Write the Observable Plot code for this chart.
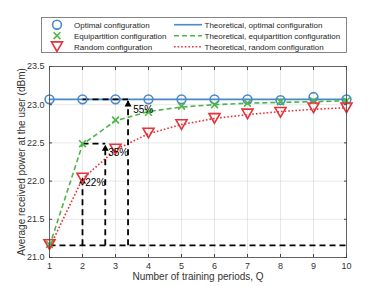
<!DOCTYPE html>
<html>
<head>
<meta charset="utf-8">
<script src="https://cdn.jsdelivr.net/npm/d3@7"></script>
<script src="https://cdn.jsdelivr.net/npm/@observablehq/plot@0.6"></script>
<style>
  html, body { margin: 0; padding: 0; background: #fff; }
  #wrap { width: 382px; height: 286px; font-family: "Liberation Sans", Arial, sans-serif; }
  #legend { display: block; }
  svg { display: block; }
</style>
</head>
<body>
<div id="wrap">
  <svg id="legend" width="382" height="60"></svg>
  <div id="chart"></div>
</div>
<script>
// ---- data ----
const Q = [1, 2, 3, 4, 5, 6, 7, 8, 9, 10];
const optimalSim     = [23.07, 23.07, 23.07, 23.07, 23.07, 23.07, 23.07, 23.06, 23.10, 23.07];
const equipSim       = [21.17, 22.49, 22.80, 22.90, 22.98, 23.00, 23.02, 23.04, 23.05, 23.05];
const randomSim      = [21.17, 22.04, 22.42, 22.63, 22.74, 22.82, 22.88, 22.90, 22.96, 22.96];
const optimalTheory  = [23.07, 23.07, 23.07, 23.07, 23.07, 23.07, 23.07, 23.07, 23.07, 23.07];
const equipTheory    = [21.15, 22.48, 22.79, 22.91, 22.97, 23.00, 23.02, 23.03, 23.04, 23.05];
const randomTheory   = [21.13, 22.03, 22.41, 22.62, 22.74, 22.82, 22.87, 22.91, 22.94, 22.96];

const xTicks = [1, 2, 3, 4, 5, 6, 7, 8, 9, 10];
const yTicks = [21, 21.5, 22, 22.5, 23, 23.5];

// annotation segments (data coordinates)
const segX1 = [1, 2, 2, 2.69, 2, 3.38];
const segY1 = [21.16, 21.16, 22.49, 21.16, 23.07, 21.16];
const segX2 = [10, 2, 2.69, 2.69, 3.38, 3.38];
const segY2 = [21.16, 22.04, 22.49, 22.47, 23.07, 23.05];
const arrowX = [2, 2.69, 3.38];
const arrowY = [22.04, 22.47, 23.05];
const pctLabels = ["22%", "35%", "55%"];
const pctX = [2.085, 2.78, 3.535];
const pctY = [21.975, 22.365, 22.93];

const legendLabelsLeft = ["Optimal configuration", "Equipartition configuration", "Random configuration"];
const legendLabelsRight = ["Theoretical, optimal configuration", "Theoretical, equipartition configuration", "Theoretical, random configuration"];

const BLUE = "#4a89c8", GREEN = "#4fb548", RED = "#e6323a";

const rows = Q.map((q, i) => ({
  q, optS: optimalSim[i], eqS: equipSim[i], rnS: randomSim[i],
  optT: optimalTheory[i], eqT: equipTheory[i], rnT: randomTheory[i]
}));
const segs = segX1.map((x, i) => ({x1: x, y1: segY1[i], x2: segX2[i], y2: segY2[i]}));
const arrows = arrowX.map((x, i) => ({x, y: arrowY[i]}));
const pcts = pctLabels.map((t, i) => ({t, x: pctX[i], y: pctY[i]}));

const axisColor = "#444";
const chart = Plot.plot({
  width: 382, height: 226,
  marginLeft: 49, marginRight: 36, marginTop: 6, marginBottom: 29,
  x: {domain: [1, 10]},
  y: {domain: [21, 23.5]},
  style: {fontFamily: "'Liberation Sans', Arial, sans-serif", fontSize: "9px", background: "#fff", color: "#333", overflow: "visible"},
  marks: [
    Plot.gridX(xTicks, {stroke: "#000", strokeOpacity: 0.09}),
    Plot.gridY(yTicks, {stroke: "#000", strokeOpacity: 0.09}),
    Plot.line(rows, {x: "q", y: "optT", stroke: BLUE, strokeWidth: 1.8}),
    Plot.line(rows, {x: "q", y: "eqT", stroke: GREEN, strokeWidth: 1.6, strokeDasharray: "5,3", strokeLinecap: "butt"}),
    Plot.line(rows, {x: "q", y: "rnT", stroke: RED, strokeWidth: 1.6, strokeDasharray: "1.6,2", strokeLinecap: "butt"}),
    Plot.link(segs, {x1: "x1", y1: "y1", x2: "x2", y2: "y2", stroke: "#000", strokeWidth: 1.8, strokeDasharray: "6,4", strokeLinecap: "butt"}),
    Plot.dot(arrows, {x: "x", y: "y", symbol: "triangle", r: 2.6, fill: "#000", stroke: "none", dy: 3.5}),
    Plot.dot(rows, {x: "q", y: "optS", r: 4.4, stroke: BLUE, strokeWidth: 1.6, fill: "none"}),
    Plot.dot(rows, {x: "q", y: "eqS", symbol: "times", r: 3.2, stroke: GREEN, strokeWidth: 1.6}),
    Plot.dot(rows, {x: "q", y: "rnS", symbol: "triangle", rotate: 180, r: 4.1, stroke: RED, strokeWidth: 1.6, fill: "none", dy: -1.6}),
    Plot.text(pcts, {x: "x", y: "y", text: "t", textAnchor: "start", fontSize: 10, fill: "#000"}),
    Plot.frame({stroke: axisColor, strokeWidth: 0.8}),
    Plot.axisX(xTicks, {anchor: "bottom", tickSize: 3, dy: -3, tickFormat: () => "", label: null, stroke: axisColor}),
    Plot.axisX(xTicks, {anchor: "top", tickSize: 3, dy: 3, tickFormat: () => "", label: null, stroke: axisColor}),
    Plot.axisY(yTicks, {anchor: "left", tickSize: 3, dx: 3, tickFormat: () => "", label: null, stroke: axisColor}),
    Plot.axisY(yTicks, {anchor: "right", tickSize: 3, dx: -3, tickFormat: () => "", label: null, stroke: axisColor}),
    Plot.axisX(xTicks, {anchor: "bottom", tickSize: 0, tickPadding: 5, label: null, fill: "#333"}),
    Plot.axisY(yTicks, {anchor: "left", tickSize: 0, tickPadding: 5, label: null, fill: "#333"}),
    Plot.text(["Number of training periods, Q"], {frameAnchor: "bottom", textAnchor: "middle", dy: 22, fontSize: 10, fill: "#333"}),
    Plot.text(["Average received power at the user (dBm)"], {frameAnchor: "left", textAnchor: "middle", dx: -27.5, rotate: -90, fontSize: 10, fill: "#333"})
  ]
});
document.getElementById("chart").appendChild(chart);

// ---- legend ----
const lg = d3.select("#legend");
lg.append("rect").attr("x", 41.5).attr("y", 17.5).attr("width", 305).attr("height", 35)
  .attr("fill", "#fff").attr("stroke", "#666").attr("stroke-width", 0.8);
const rowY = [24.7, 35.7, 46.7];
const mx = 57;
lg.append("circle").attr("cx", mx).attr("cy", rowY[0]).attr("r", 4.4)
  .attr("fill", "none").attr("stroke", BLUE).attr("stroke-width", 1.6);
lg.append("path").attr("transform", `translate(${mx},${rowY[1]})`)
  .attr("d", d3.symbol(d3.symbolTimes, 3.2 * 3.2 * Math.PI)())
  .attr("fill", "none").attr("stroke", GREEN).attr("stroke-width", 1.6);
lg.append("path").attr("transform", `translate(${mx},${rowY[2] - 1.6}) rotate(180)`)
  .attr("d", d3.symbol(d3.symbolTriangle, 4.1 * 4.1 * Math.PI)())
  .attr("fill", "none").attr("stroke", RED).attr("stroke-width", 1.6);
const dashes = [null, "5,3", "1.6,2"];
const cols = [BLUE, GREEN, RED];
rowY.forEach((y, i) => {
  lg.append("text").attr("x", 74).attr("y", y).attr("dy", "0.35em")
    .attr("font-size", 8).attr("fill", "#262626").text(legendLabelsLeft[i]);
  lg.append("line").attr("x1", 174).attr("x2", 202).attr("y1", y).attr("y2", y)
    .attr("stroke", cols[i]).attr("stroke-width", 1.6).attr("stroke-dasharray", dashes[i]);
  lg.append("text").attr("x", 204.5).attr("y", y).attr("dy", "0.35em")
    .attr("font-size", 8).attr("fill", "#262626").text(legendLabelsRight[i]);
});
</script>
</body>
</html>
